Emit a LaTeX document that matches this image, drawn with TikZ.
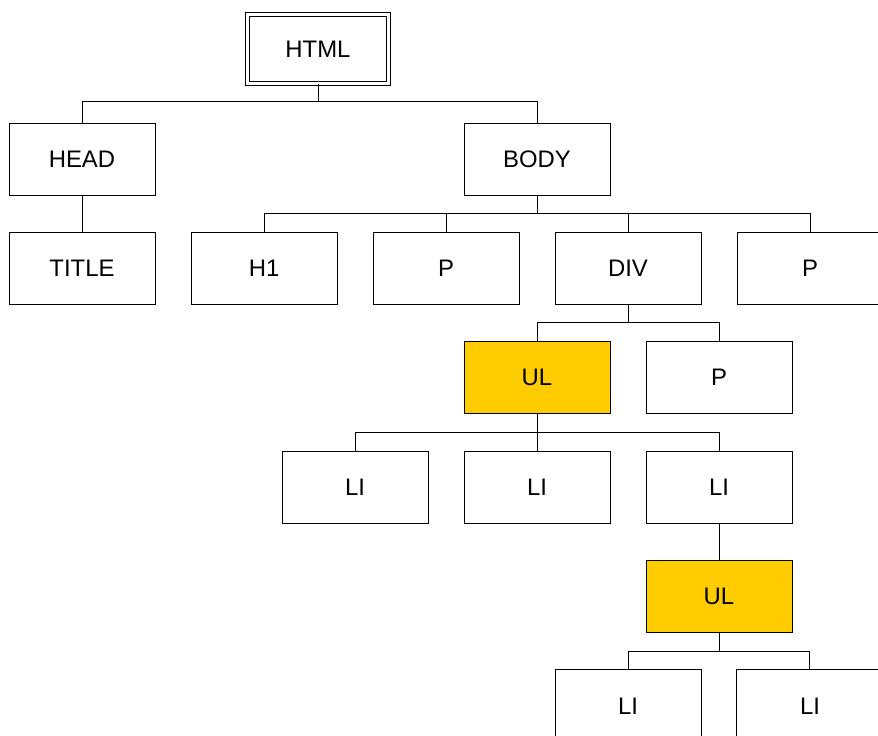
\documentclass[tikz,border=0pt]{standalone}
\usepackage{fontspec}
\setmainfont{Liberation Sans}
\usetikzlibrary{positioning}

\begin{document}
\begin{tikzpicture}[
                block/.style={rectangle, draw, line width=0.7pt, minimum height=1.8cm, minimum width=3.65cm, font=\fontsize{17}{20}\selectfont},
                listblock/.style={block, fill=listyellow},
                node distance=0.91cm and 0.875cm,
                every node/.style={align=center}
            ]
            \definecolor{listyellow}{HTML}{FFCC00}
            \useasboundingbox (0,0) rectangle (21.95,-18.4);

            \node[block, double, double distance=2pt, minimum width=3.54cm, minimum height=1.725cm] (html) at (7.95,-1.225) {HTML};
            \node[block] (head) at (2.05,-3.975) {HEAD};
            \node[block] (body) at (13.425,-3.975) {BODY};
            \node[block, below=of head] (title) {TITLE};

            \node[block, below=of body, xshift=2.275cm] (div) {DIV};
            \node[block, left=of div] (p1) {P};
            \node[block, left=of p1] (h1) {H1};
            \node[block, right=of div] (p2) {P};

            \node[listblock, below=of div, xshift=-2.275cm] (ul1) {UL};
            \node[block, right=of ul1] (p3) {P};

            \node[block, below=of ul1] (li2) {LI};
            \node[block, left=of li2] (li1) {LI};
            \node[block, right=of li2] (li3) {LI};

            \node[listblock, below=of li3] (ul2) {UL};
            \node[block, below=of ul2, xshift=-2.275cm] (li4) {LI};
            \node[block, right=of li4] (li5) {LI};

            % tree connectors
            \draw[line width=0.7pt] (html.south) -- ++(0,-0.45) -| (head.north);
            \draw[line width=0.7pt] (html.south) -- ++(0,-0.45) -| (body.north);
            \draw[line width=0.7pt] (head) -- (title);

            \draw[line width=0.7pt] (body.south) -- ++(0,-0.45) -| (h1.north);
            \draw[line width=0.7pt] (body.south) -- ++(0,-0.45) -| (p1.north);
            \draw[line width=0.7pt] (body.south) -- ++(0,-0.45) -| (div.north);
            \draw[line width=0.7pt] (body.south) -- ++(0,-0.45) -| (p2.north);

            \draw[line width=0.7pt] (div.south) -- ++(0,-0.45) -| (ul1.north);
            \draw[line width=0.7pt] (div.south) -- ++(0,-0.45) -| (p3.north);

            \draw[line width=0.7pt] (ul1.south) -- ++(0,-0.45) -| (li1.north);
            \draw[line width=0.7pt] (ul1.south) -- (li2.north);
            \draw[line width=0.7pt] (ul1.south) -- ++(0,-0.45) -| (li3.north);

            \draw[line width=0.7pt] (li3) -- (ul2);
            \draw[line width=0.7pt] (ul2.south) -- ++(0,-0.45) -| (li4.north);
            \draw[line width=0.7pt] (ul2.south) -- ++(0,-0.45) -| (li5.north);

        \end{tikzpicture}
\end{document}
